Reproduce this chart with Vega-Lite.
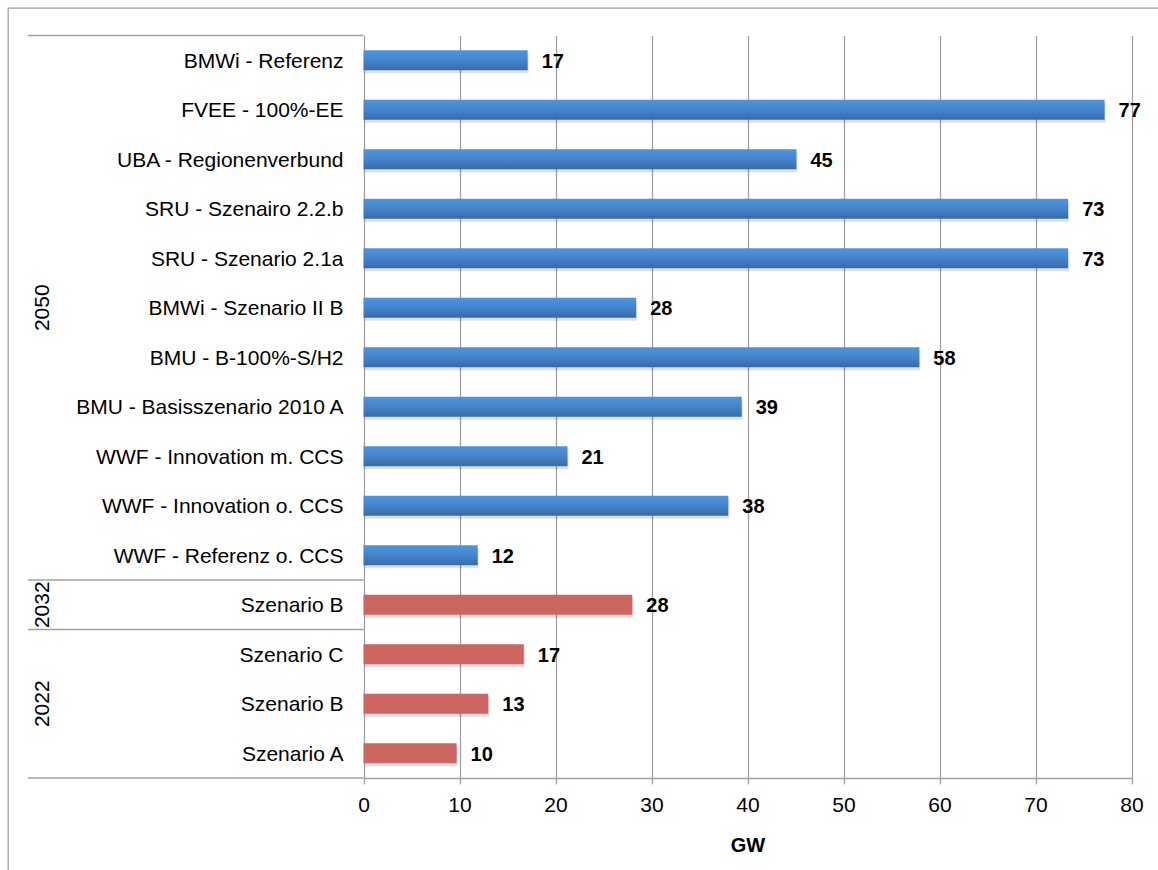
{
  "$schema": "https://vega.github.io/schema/vega-lite/v6.json",
  "autosize": {"type": "none"},
  "padding": {"left": 8, "top": 8, "right": 0, "bottom": 0},
  "width": 1160,
  "height": 870,
  "background": "white",
  "config": {
    "view": {"stroke": "#a0a0a0", "strokeWidth": 1.3},
    "font": "Liberation Sans",
    "text": {"font": "Liberation Sans"}
  },
  "data": {
    "values": [
      {"year": "2050", "scenario": "BMWi - Referenz", "value": 17.1},
      {"year": "2050", "scenario": "FVEE - 100%-EE", "value": 77.2},
      {"year": "2050", "scenario": "UBA - Regionenverbund", "value": 45.1},
      {"year": "2050", "scenario": "SRU - Szenairo 2.2.b", "value": 73.4},
      {"year": "2050", "scenario": "SRU - Szenario 2.1a", "value": 73.4},
      {"year": "2050", "scenario": "BMWi - Szenario II B", "value": 28.4},
      {"year": "2050", "scenario": "BMU - B-100%-S/H2", "value": 57.9},
      {"year": "2050", "scenario": "BMU - Basisszenario 2010 A", "value": 39.4},
      {"year": "2050", "scenario": "WWF - Innovation m. CCS", "value": 21.25},
      {"year": "2050", "scenario": "WWF - Innovation o. CCS", "value": 38.0},
      {"year": "2050", "scenario": "WWF - Referenz o. CCS", "value": 11.9},
      {"year": "2032", "scenario": "Szenario B", "value": 28.0},
      {"year": "2022", "scenario": "Szenario C", "value": 16.7},
      {"year": "2022", "scenario": "Szenario B", "value": 13.0},
      {"year": "2022", "scenario": "Szenario A", "value": 9.7}
    ]
  },
  "transform": [{"calculate": "datum.year + ' | ' + datum.scenario", "as": "key"}],
  "encoding": {
    "y": {
      "field": "key",
      "type": "nominal",
      "sort": null,
      "scale": {"range": [27.5, 770], "paddingInner": 0, "paddingOuter": 0},
      "axis": null
    }
  },
  "layer": [
    {
      "encoding": {
        "x": {
          "field": "value",
          "type": "quantitative",
          "scale": {"domain": [0, 80], "range": [355.5, 1123.5], "nice": false, "zero": true},
          "axis": {
            "orient": "top",
            "values": [0, 10, 20, 30, 40, 50, 60, 70, 80],
            "title": null,
            "grid": true,
            "gridColor": "#a0a0a0",
            "gridWidth": 1.3,
            "domain": false,
            "ticks": false,
            "labels": false
          }
        }
      },
      "layer": [
        {
          "mark": {"type": "bar", "size": 20, "color": "#000000", "opacity": 0.12, "yOffset": 3, "xOffset": 1}
        },
        {
          "transform": [{"filter": "datum.year == '2050'"}],
          "mark": {
            "type": "bar",
            "size": 20,
            "color": {
              "gradient": "linear",
              "x1": 0, "y1": 0, "x2": 0, "y2": 1,
              "stops": [
                {"offset": 0, "color": "#4e95de"},
                {"offset": 0.5, "color": "#4584cc"},
                {"offset": 1, "color": "#386ba8"}
              ]
            }
          }
        },
        {
          "transform": [{"filter": "datum.year != '2050'"}],
          "mark": {"type": "bar", "size": 20, "color": "#cd6660"}
        },
        {
          "mark": {"type": "text", "align": "left", "baseline": "middle", "dx": 14, "dy": 1.5, "fontSize": 20, "fontWeight": "bold", "color": "#000000"},
          "encoding": {"text": {"field": "value", "type": "quantitative", "format": ".0f"}}
        },
        {
          "mark": {"type": "text", "align": "right", "baseline": "middle", "dx": -20, "dy": 1.5, "fontSize": 21, "color": "#000000"},
          "encoding": {
            "x": {"datum": 0, "type": "quantitative"},
            "text": {"field": "scenario", "type": "nominal"}
          }
        }
      ]
    },
    {
      "encoding": {
        "x": {
          "field": "value",
          "type": "quantitative",
          "scale": {"domain": [0, 80], "range": [355.5, 1123.5], "nice": false, "zero": true},
          "axis": {
            "orient": "bottom",
            "values": [0, 10, 20, 30, 40, 50, 60, 70, 80],
            "title": "GW",
            "offset": -100,
            "grid": false,
            "domainColor": "#a0a0a0",
            "domainWidth": 1.3,
            "tickColor": "#a0a0a0",
            "tickSize": 6,
            "tickWidth": 1.3,
            "labelFontSize": 21,
            "labelColor": "#000000",
            "labelFont": "Liberation Sans",
            "labelPadding": 10,
            "labelFlush": false,
            "labelOverlap": false,
            "titleFontSize": 20,
            "titleFont": "Liberation Sans",
            "titleFontWeight": "bold",
            "titleColor": "#000000",
            "titlePadding": 20
          }
        }
      },
      "mark": {"type": "point", "opacity": 0}
    },
    {
      "encoding": {
        "x": {
          "datum": 0,
          "type": "quantitative",
          "scale": {"domain": [0, 1], "range": [20, 355.5], "nice": false, "zero": false},
          "axis": null
        }
      },
      "layer": [
        {
          "transform": [{"filter": "datum.key == '2050 | BMWi - Referenz' || datum.key == '2032 | Szenario B' || datum.key == '2022 | Szenario C'"}],
          "mark": {"type": "rule", "color": "#a0a0a0", "strokeWidth": 1.3},
          "encoding": {
            "y": {"field": "key", "type": "nominal", "sort": null, "bandPosition": 0},
            "x2": {"datum": 1}
          }
        },
        {
          "transform": [{"filter": "datum.key == '2022 | Szenario A'"}],
          "mark": {"type": "rule", "color": "#a0a0a0", "strokeWidth": 1.3},
          "encoding": {
            "y": {"field": "key", "type": "nominal", "sort": null, "bandPosition": 1},
            "x2": {"datum": 1}
          }
        },
        {
          "transform": [{"filter": "datum.key == '2050 | BMWi - Szenario II B' || datum.key == '2032 | Szenario B' || datum.key == '2022 | Szenario B'"}],
          "mark": {"type": "text", "angle": 270, "align": "center", "baseline": "middle", "fontSize": 21, "color": "#000000"},
          "encoding": {
            "x": {"datum": 0.044, "type": "quantitative"},
            "text": {"field": "year", "type": "nominal"}
          }
        }
      ]
    }
  ],
  "resolve": {"scale": {"x": "independent"}}
}
